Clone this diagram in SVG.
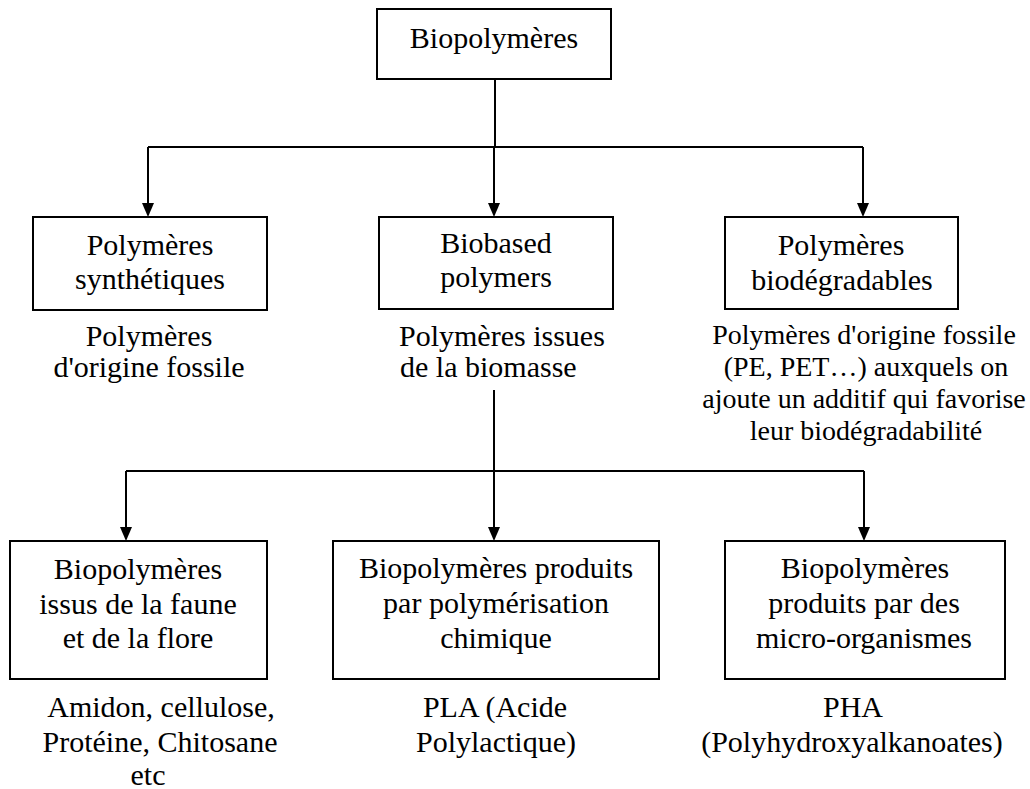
<svg xmlns="http://www.w3.org/2000/svg" width="1030" height="789" viewBox="0 0 1030 789">
<style>
.box{fill:#fff;stroke:#000;stroke-width:2}
.c{fill:none;stroke:#000;stroke-width:2}
.s{text-anchor:start}
.sm{font-size:28px}
</style>
<rect width="1030" height="789" fill="#fff"/>
<g id="connectors">
<path class="c" d="M495,79 V147"/>
<path class="c" d="M148,147 H863"/>
<path class="c" d="M148,147 V203"/>
<path class="c" d="M494,147 V203"/>
<path class="c" d="M863,147 V203"/>
<path d="M142,203 L154,203 L148,217 Z"/>
<path d="M488,203 L500,203 L494,217 Z"/>
<path d="M857,203 L869,203 L863,217 Z"/>
<path class="c" d="M494,390 V527"/>
<path class="c" d="M126,471 H864"/>
<path class="c" d="M126,471 V527"/>
<path class="c" d="M864,471 V527"/>
<path d="M120,527 L132,527 L126,541 Z"/>
<path d="M488,527 L500,527 L494,541 Z"/>
<path d="M858,527 L870,527 L864,541 Z"/>
</g>
<g font-family="Liberation Serif, Times New Roman, serif" font-size="30" text-anchor="middle" fill="#000">
<g id="root">
<rect class="box" x="377" y="9" width="234" height="70"/>
<text x="494" y="48">Biopolymères</text>
</g>
<g id="synth">
<rect class="box" x="33" y="217" width="234" height="93"/>
<text x="150" y="255">Polymères</text>
<text x="150" y="289">synthétiques</text>
<text x="149" y="346">Polymères</text>
<text x="149" y="377">d'origine fossile</text>
</g>
<g id="biobased">
<rect class="box" x="379" y="217" width="234" height="92"/>
<text x="496" y="253">Biobased</text>
<text x="496" y="287">polymers</text>
<text class="s" x="399" y="346">Polymères issues</text>
<text class="s" x="400" y="377">de la biomasse</text>
</g>
<g id="biodeg">
<rect class="box" x="725" y="217" width="233" height="92"/>
<text x="841" y="255">Polymères</text>
<text x="842" y="290">biodégradables</text>
<text class="sm" x="864" y="344">Polymères d'origine fossile</text>
<text class="sm" x="866" y="376">(PE, PET…) auxquels on</text>
<text class="sm" x="864" y="408">ajoute un additif qui favorise</text>
<text class="sm" x="866" y="440">leur biodégradabilité</text>
</g>
<g id="faune">
<rect class="box" x="10" y="541" width="257" height="138"/>
<text x="138" y="579">Biopolymères</text>
<text x="138" y="614">issus de la faune</text>
<text x="138" y="648">et de la flore</text>
<text x="161" y="717">Amidon, cellulose,</text>
<text x="160" y="752">Protéine, Chitosane</text>
<text x="148" y="785">etc</text>
</g>
<g id="chimique">
<rect class="box" x="333" y="541" width="326" height="138"/>
<text x="496" y="578">Biopolymères produits</text>
<text x="496" y="613">par polymérisation</text>
<text x="496" y="648">chimique</text>
<text x="495" y="717">PLA (Acide</text>
<text x="496" y="752">Polylactique)</text>
</g>
<g id="micro">
<rect class="box" x="725" y="541" width="280" height="138"/>
<text x="865" y="578">Biopolymères</text>
<text x="864" y="613">produits par des</text>
<text x="864" y="648">micro-organismes</text>
<text x="853" y="717">PHA</text>
<text x="852" y="752">(Polyhydroxyalkanoates)</text>
</g>
</g>
</svg>
